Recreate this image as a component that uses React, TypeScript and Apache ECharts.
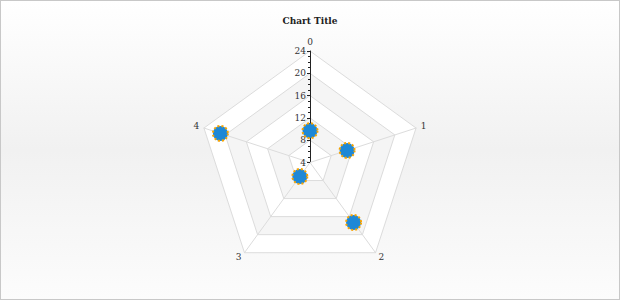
import { useEffect, useRef } from "react";
import * as echarts from "echarts";

const categories = ["0", "1", "2", "3", "4"];
const values = [9.7, 11, 17.3, 7.1, 20.9];
const axisMin = 4;
const axisMax = 24;
const titleText = "Chart Title";

const FONT = "DejaVu Serif";

export default function App() {
  const ref = useRef<HTMLDivElement>(null);
  useEffect(() => {
    const chart = echarts.init(ref.current!, null, { renderer: "svg" });
    // ECharts radar runs counter-clockwise; reorder so categories go clockwise
    const order = categories.map((_, i) => (i === 0 ? 0 : categories.length - i));
    chart.setOption({
      animation: false,
      backgroundColor: "transparent",
      title: {
        text: titleText,
        left: "center",
        top: 10,
        textStyle: { fontFamily: FONT, fontSize: 9, fontWeight: "bold", color: "#222" },
      },
      radar: {
        center: [309, 161.5],
        radius: 111.5,
        startAngle: 90,
        splitNumber: 5,
        shape: "polygon",
        nameGap: 5,
        axisName: { color: "#333", fontSize: 9, fontFamily: FONT },
        axisLine: { lineStyle: { color: "#dcdcdc", width: 1 } },
        splitLine: { lineStyle: { color: "#dcdcdc", width: 1 } },
        splitArea: { show: true, areaStyle: { color: ["#ffffff", "#f5f5f5"] } },
        axisLabel: { show: false },
        axisTick: { show: false },
        indicator: order.map((ci, i) =>
          i === 0
            ? {
                name: categories[ci],
                min: axisMin,
                max: axisMax,
                axisLine: { lineStyle: { color: "#222", width: 1 } },
                axisTick: { show: true, length: 3, lineStyle: { color: "#222" } },
                minorTick: { show: true, splitNumber: 4, length: 2, lineStyle: { color: "#222" } },
                axisLabel: { show: true, fontFamily: FONT, fontSize: 9, color: "#333", margin: 4 },
              }
            : { name: categories[ci], min: axisMin, max: axisMax }
        ),
      },
      series: [
        {
          type: "radar",
          symbol: "circle",
          symbolSize: 15,
          lineStyle: { width: 0, opacity: 0 },
          itemStyle: {
            color: "#1e88d6",
            borderColor: "#f7a300",
            borderWidth: 2,
            borderType: "dotted",
          },
          data: [{ value: order.map((ci) => values[ci]), name: "Series 0" }],
        },
      ],
    });
    return () => chart.dispose();
  }, []);
  return (
    <div
      ref={ref}
      style={{
        position: "fixed",
        left: 0,
        top: 0,
        width: 620,
        height: 300,
        boxSizing: "border-box",
        border: "1px solid #c8c8c8",
        background: "linear-gradient(to bottom, #ffffff 0%, #f1f1f1 50%, #fcfcfc 100%)",
      }}
    />
  );
}
